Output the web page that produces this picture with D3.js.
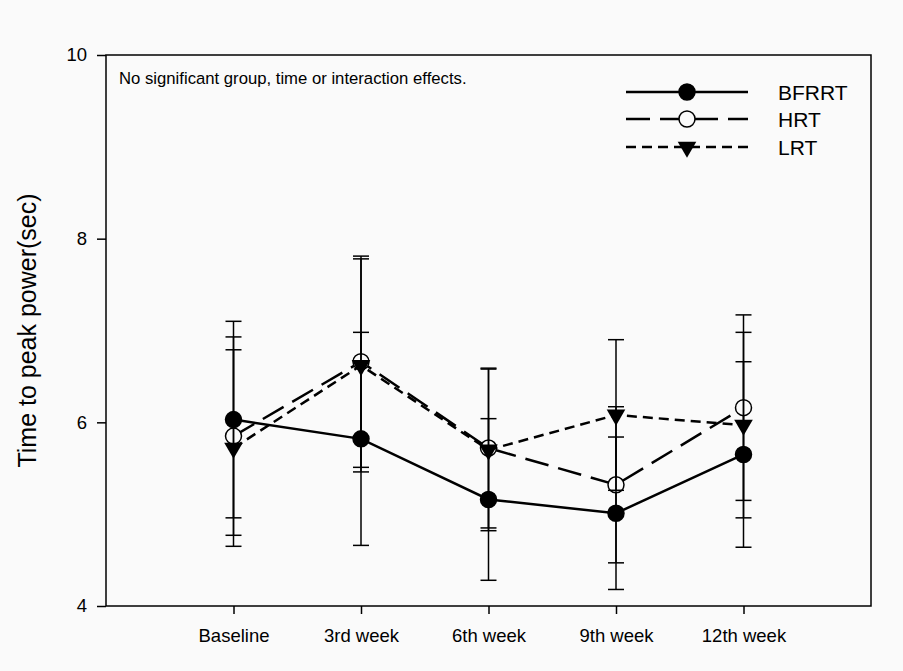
<!DOCTYPE html>
<html>
<head>
<meta charset="utf-8">
<script src="https://cdn.jsdelivr.net/npm/d3@7"></script>
<style>
  body { margin: 0; background: #fafafa; }
  svg { font-family: "Liberation Sans", Arial, sans-serif; }
</style>
</head>
<body>
<div id="chart"></div>
<script>
// data
const weeks = ["Baseline", "3rd week", "6th week", "9th week", "12th week"];
const bfrrtMean = [6.03, 5.82, 5.16, 5.01, 5.65];
const bfrrtSd   = [1.07, 1.16, 0.88, 0.83, 1.01];
const hrtMean   = [5.85, 6.66, 5.72, 5.32, 6.16];
const hrtSd     = [1.08, 1.15, 0.87, 0.85, 1.01];
const lrtMean   = [5.72, 6.62, 5.70, 6.08, 5.97];
const lrtSd     = [1.07, 1.16, 0.88, 0.82, 1.01];
const yTicks = [4, 6, 8, 10];

const width = 903, height = 671;
const plotLeft = 106, plotRight = 871, plotTop = 55, plotBottom = 606;

const svg = d3.select("#chart")
  .append("svg")
    .attr("width", width)
    .attr("height", height);

const x = d3.scalePoint()
    .domain(weeks)
    .range([plotLeft, plotRight])
    .padding(1);

const y = d3.scaleLinear()
    .domain([4, 10])
    .range([plotBottom, plotTop]);

// groups, drawn bottom to top (HRT, LRT, then BFRRT on top)
const groups = [
  {name: "HRT", mean: hrtMean, sd: hrtSd, dash: "24,10", marker: "open"},
  {name: "LRT", mean: lrtMean, sd: lrtSd, dash: "10,6", marker: "tri"},
  {name: "BFRRT", mean: bfrrtMean, sd: bfrrtSd, dash: null, marker: "fill"}
];

// frame
svg.append("rect")
  .attr("x", plotLeft).attr("y", plotTop)
  .attr("width", plotRight - plotLeft).attr("height", plotBottom - plotTop)
  .attr("fill", "none").attr("stroke", "#000").attr("stroke-width", 1.5);

// axes
const yAxis = svg.append("g")
  .attr("transform", `translate(${plotLeft},0)`)
  .call(d3.axisLeft(y).tickValues(yTicks).tickFormat(d3.format("d")).tickSize(9).tickPadding(10));
const xAxis = svg.append("g")
  .attr("transform", `translate(0,${plotBottom})`)
  .call(d3.axisBottom(x).tickSize(8).tickPadding(15));
[yAxis, xAxis].forEach(a => {
  a.select(".domain").remove();
  a.selectAll("line").attr("stroke", "#000").attr("stroke-width", 1.5);
  a.selectAll("text").attr("fill", "#000").style("font-size", "18.5px");
});

// y title
svg.append("text")
  .attr("transform", `translate(36,${(plotTop + plotBottom) / 2}) rotate(-90)`)
  .attr("text-anchor", "middle")
  .style("font-size", "25px")
  .text("Time to peak power(sec)");

// note
svg.append("text")
  .attr("x", 119).attr("y", 84)
  .style("font-size", "16.7px")
  .text("No significant group, time or interaction effects.");

// marker helper
function drawMarker(sel, type, cx, cy) {
  if (type === "tri") {
    sel.append("path")
      .attr("d", d3.symbol(d3.symbolTriangle, 150)())
      .attr("transform", `translate(${cx},${cy}) rotate(180)`)
      .attr("fill", "#000");
  } else {
    sel.append("circle")
      .attr("cx", cx).attr("cy", cy).attr("r", 8)
      .attr("fill", type === "fill" ? "#000" : "#fafafa")
      .attr("stroke", "#000").attr("stroke-width", 1.5);
  }
}

const line = d3.line()
  .x((d, i) => x(weeks[i]))
  .y(d => y(d));

groups.forEach(g => {
  const layer = svg.append("g");
  // error bars
  g.mean.forEach((m, i) => {
    const cx = x(weeks[i]);
    const hi = y(m + g.sd[i]), lo = y(m - g.sd[i]);
    layer.append("line")
      .attr("x1", cx).attr("x2", cx).attr("y1", hi).attr("y2", lo)
      .attr("stroke", "#000").attr("stroke-width", 1.5);
    [hi, lo].forEach(yy => layer.append("line")
      .attr("x1", cx - 8).attr("x2", cx + 8).attr("y1", yy).attr("y2", yy)
      .attr("stroke", "#000").attr("stroke-width", 1.5));
  });
  layer.append("path")
    .datum(g.mean)
    .attr("d", line)
    .attr("fill", "none")
    .attr("stroke", "#000")
    .attr("stroke-width", 2.5)
    .attr("stroke-dasharray", g.dash);
  g.mean.forEach((m, i) => drawMarker(layer, g.marker, x(weeks[i]), y(m)));
});

// legend
const legendOrder = ["BFRRT", "HRT", "LRT"];
const legendY = [92, 119, 147];
legendOrder.forEach((name, i) => {
  const g = groups.find(d => d.name === name);
  const lg = svg.append("g");
  lg.append("line")
    .attr("x1", 626).attr("x2", 748)
    .attr("y1", legendY[i]).attr("y2", legendY[i])
    .attr("stroke", "#000").attr("stroke-width", 2.5)
    .attr("stroke-dasharray", g.dash);
  drawMarker(lg, g.marker, 687, legendY[i]);
  lg.append("text")
    .attr("x", 778).attr("y", legendY[i])
    .attr("dy", "0.36em")
    .style("font-size", "21px")
    .text(name);
});
</script>
</body>
</html>
